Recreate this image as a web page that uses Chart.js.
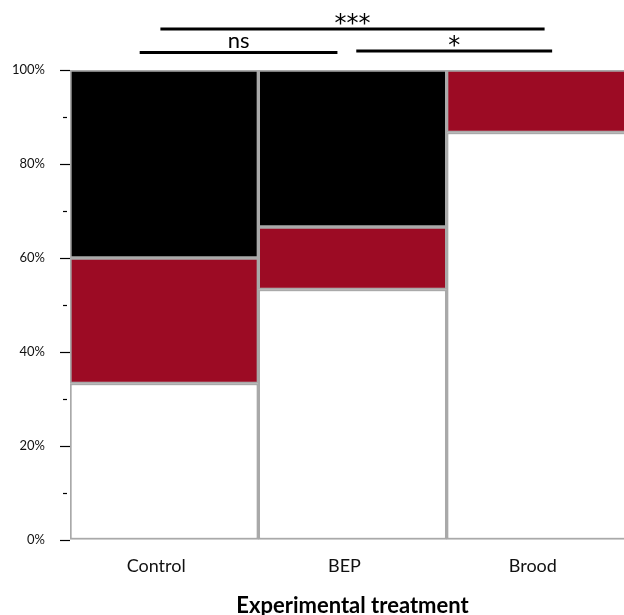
<!DOCTYPE html>
<html>
<head>
<meta charset="utf-8">
<script src="https://cdn.jsdelivr.net/npm/chart.js@4/dist/chart.umd.min.js"></script>
<style>
  html, body { margin: 0; padding: 0; background: #fff; overflow: hidden; }
  #wrap { width: 640px; height: 615px; }
</style>
</head>
<body>
<div id="wrap"><canvas id="c" width="640" height="615"></canvas></div>
<script>
// Treatment groups on the x axis
const categories = ['Control', 'BEP', 'Brood'];

// Share of each outcome per treatment (percent, stacked bottom to top)
const whiteShare = [33.3, 53.3, 86.7];
const redShare   = [26.7, 13.3, 13.3];
const blackShare = [40.0, 33.4, 0];

// Pairwise comparisons drawn above the bars
const comparisons = [
  { from: 0, to: 2, fromShift: -0.02, toShift: 0.02, rise: 41, label: '***' },
  { from: 0, to: 1, fromShift: -0.13, toShift: -0.08, rise: 17.5, label: 'ns' },
  { from: 1, to: 2, fromShift: 0.02, toShift: 0.06, rise: 19, label: '*' }
];

const FONT = 'Lato';
const RED = '#9c0b24';
const EDGE = '#a9a9a9';

const minorTicks = {
  id: 'minorTicks',
  afterDraw(chart) {
    const y = chart.scales.y;
    const ctx = chart.ctx;
    const left = chart.chartArea.left;
    ctx.save();
    ctx.strokeStyle = '#000';
    ctx.lineWidth = 1.2;
    for (let v = 10; v < 100; v += 20) {
      const py = Math.round(y.getPixelForValue(v)) + 0.5;
      ctx.beginPath();
      ctx.moveTo(left - 7, py);
      ctx.lineTo(left - 3, py);
      ctx.stroke();
    }
    ctx.restore();
  }
};

const brackets = {
  id: 'brackets',
  afterDraw(chart) {
    const x = chart.scales.x;
    const ctx = chart.ctx;
    const top = chart.chartArea.top;
    const band = x.getPixelForValue(1) - x.getPixelForValue(0);
    ctx.save();
    ctx.strokeStyle = '#000';
    ctx.fillStyle = '#000';
    ctx.lineWidth = 3;
    ctx.textAlign = 'center';
    ctx.textBaseline = 'alphabetic';
    comparisons.forEach(c => {
      const x1 = x.getPixelForValue(c.from) + c.fromShift * band;
      const x2 = x.getPixelForValue(c.to) + c.toShift * band;
      const ly = top - c.rise;
      ctx.beginPath();
      ctx.moveTo(x1, ly);
      ctx.lineTo(x2, ly);
      ctx.stroke();
      ctx.font = c.label === 'ns' ? '22px ' + FONT : '24px "DejaVu Sans"';
      const m = ctx.measureText(c.label);
      const cy = ly - 10;
      const by = cy + (m.actualBoundingBoxAscent - m.actualBoundingBoxDescent) / 2;
      ctx.fillText(c.label, (x1 + x2) / 2, by);
    });
    ctx.restore();
  }
};

const ds = (label, data, color) => ({
  label, data,
  backgroundColor: color,
  borderColor: EDGE,
  borderWidth: 2,
  borderSkipped: false,
  categoryPercentage: 1.0,
  barPercentage: 1.0
});

new Chart(document.getElementById('c'), {
  type: 'bar',
  data: {
    labels: categories,
    datasets: [
      ds('White', whiteShare, '#ffffff'),
      ds('Red', redShare, RED),
      ds('Black', blackShare, '#000000')
    ]
  },
  options: {
    responsive: false,
    animation: false,
    layout: { padding: { top: 70, left: 12, right: 5, bottom: -4 } },
    plugins: { legend: { display: false }, tooltip: { enabled: false } },
    scales: {
      x: {
        stacked: true,
        grid: { display: false, drawTicks: false },
        border: { display: false },
        ticks: {
          color: '#111',
          font: { family: FONT, size: 18 },
          padding: 15,
          labelOffset: -8
        },
        title: {
          display: true,
          text: 'Experimental treatment',
          color: '#000',
          font: { family: FONT, size: 22, weight: 'bold' },
          padding: { top: 1, bottom: 0 }
        }
      },
      y: {
        stacked: true,
        min: 0,
        max: 100,
        afterFit: (scale) => { scale.width = 58; },
        grid: {
          display: true,
          drawOnChartArea: false,
          drawTicks: true,
          tickLength: 10,
          tickWidth: 1.2,
          tickColor: (ctx) => (ctx.tick && ctx.tick.value % 20 === 0) ? '#000' : 'rgba(0,0,0,0)'
        },
        border: { display: false },
        ticks: {
          stepSize: 20,
          color: '#111',
          font: { family: FONT, size: 13 },
          padding: 15,
          callback: (v) => v + '%'
        }
      }
    }
  },
  plugins: [minorTicks, brackets]
});
</script>
</body>
</html>
